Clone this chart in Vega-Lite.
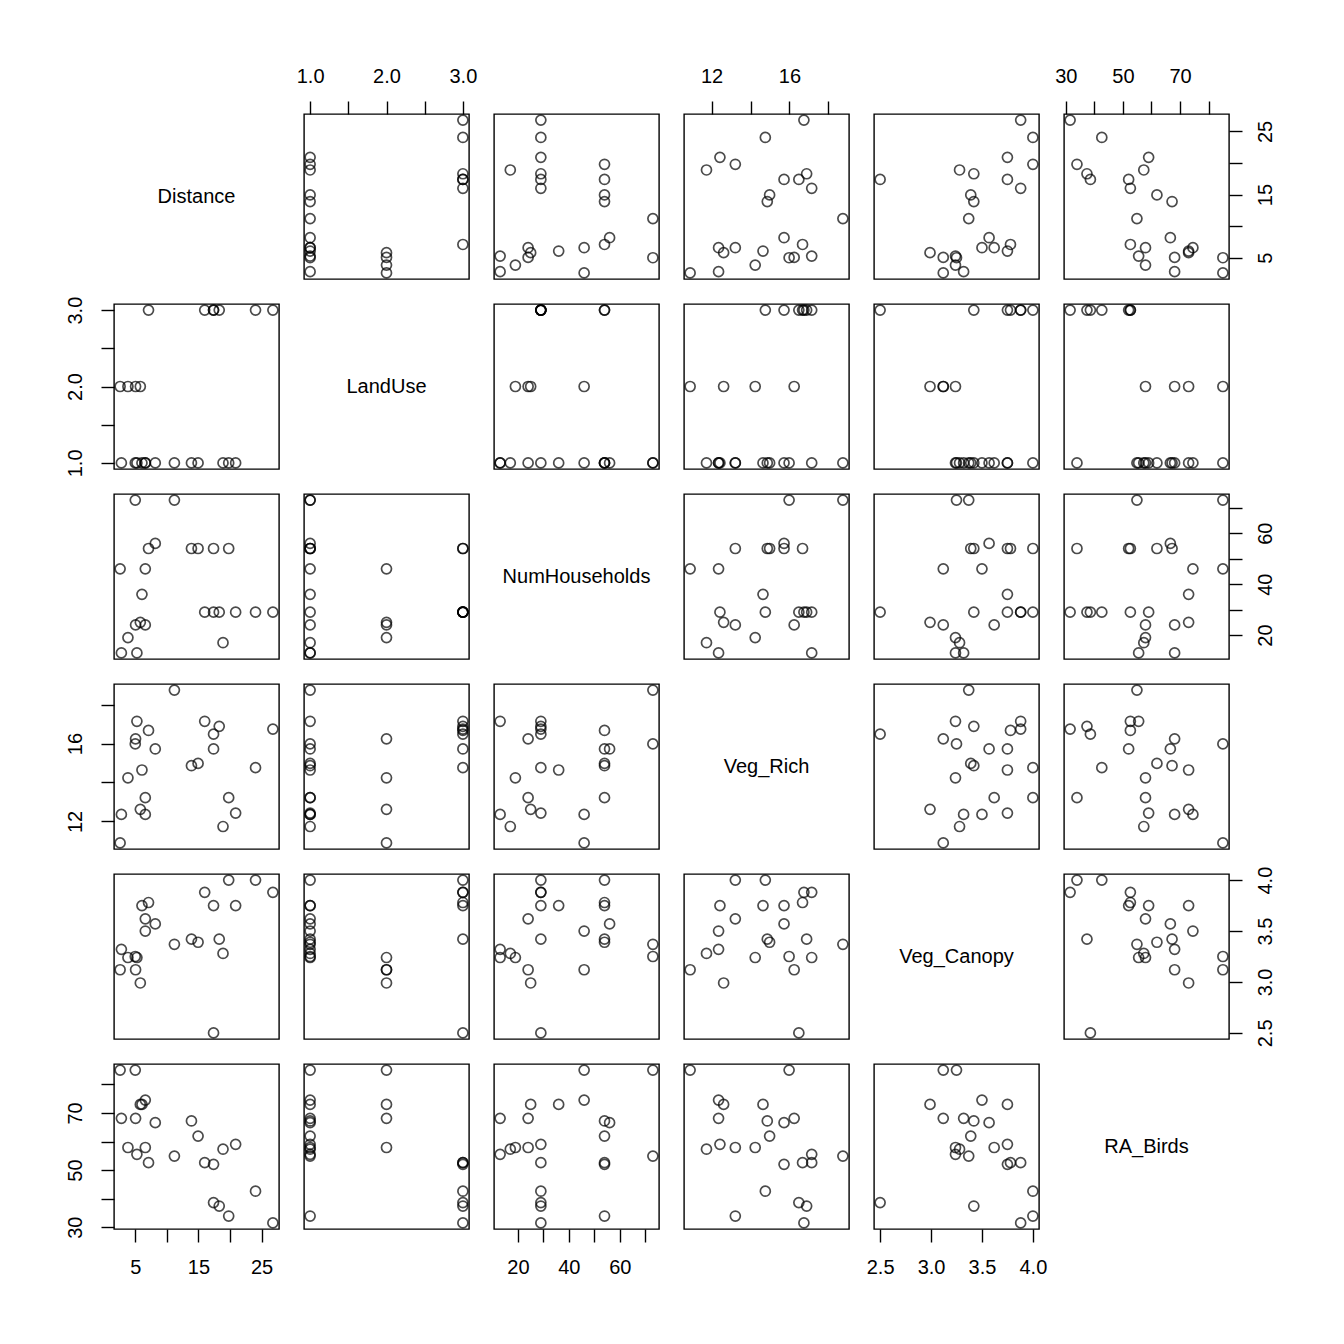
{
"$schema":"https://vega.github.io/schema/vega-lite/v6.json",
"background":"white",
"padding":{"left":64,"top":65,"right":5,"bottom":5},
"datasets":{"pairs":[
{"Distance":2.6,"LandUse":2,"NumHouseholds":46,"Veg_Rich":10.9,"Veg_Canopy":3.12,"RA_Birds":85.0},
{"Distance":2.8,"LandUse":1,"NumHouseholds":13,"Veg_Rich":12.36,"Veg_Canopy":3.32,"RA_Birds":68.1},
{"Distance":3.84,"LandUse":2,"NumHouseholds":19,"Veg_Rich":14.24,"Veg_Canopy":3.24,"RA_Birds":57.9},
{"Distance":5.0,"LandUse":1,"NumHouseholds":73,"Veg_Rich":15.98,"Veg_Canopy":3.25,"RA_Birds":85.0},
{"Distance":5.05,"LandUse":2,"NumHouseholds":24,"Veg_Rich":16.24,"Veg_Canopy":3.12,"RA_Birds":68.1},
{"Distance":5.26,"LandUse":1,"NumHouseholds":13,"Veg_Rich":17.14,"Veg_Canopy":3.24,"RA_Birds":55.5},
{"Distance":5.8,"LandUse":2,"NumHouseholds":25,"Veg_Rich":12.62,"Veg_Canopy":2.99,"RA_Birds":73.0},
{"Distance":6.06,"LandUse":1,"NumHouseholds":36,"Veg_Rich":14.64,"Veg_Canopy":3.75,"RA_Birds":73.0},
{"Distance":6.59,"LandUse":1,"NumHouseholds":46,"Veg_Rich":12.36,"Veg_Canopy":3.50,"RA_Birds":74.5},
{"Distance":6.59,"LandUse":1,"NumHouseholds":24,"Veg_Rich":13.22,"Veg_Canopy":3.62,"RA_Birds":57.9},
{"Distance":7.1,"LandUse":3,"NumHouseholds":54,"Veg_Rich":16.67,"Veg_Canopy":3.78,"RA_Birds":52.6},
{"Distance":8.17,"LandUse":1,"NumHouseholds":56,"Veg_Rich":15.72,"Veg_Canopy":3.57,"RA_Birds":66.6},
{"Distance":11.2,"LandUse":1,"NumHouseholds":73,"Veg_Rich":18.74,"Veg_Canopy":3.37,"RA_Birds":54.9},
{"Distance":13.9,"LandUse":1,"NumHouseholds":54,"Veg_Rich":14.86,"Veg_Canopy":3.42,"RA_Birds":67.2},
{"Distance":14.95,"LandUse":1,"NumHouseholds":54,"Veg_Rich":14.98,"Veg_Canopy":3.39,"RA_Birds":61.9},
{"Distance":16.0,"LandUse":3,"NumHouseholds":29,"Veg_Rich":17.14,"Veg_Canopy":3.88,"RA_Birds":52.6},
{"Distance":17.4,"LandUse":3,"NumHouseholds":54,"Veg_Rich":15.72,"Veg_Canopy":3.75,"RA_Birds":52.0},
{"Distance":17.4,"LandUse":3,"NumHouseholds":29,"Veg_Rich":16.48,"Veg_Canopy":2.50,"RA_Birds":38.6},
{"Distance":18.3,"LandUse":3,"NumHouseholds":29,"Veg_Rich":16.88,"Veg_Canopy":3.42,"RA_Birds":37.4},
{"Distance":18.9,"LandUse":1,"NumHouseholds":17,"Veg_Rich":11.74,"Veg_Canopy":3.28,"RA_Birds":57.3},
{"Distance":19.8,"LandUse":1,"NumHouseholds":54,"Veg_Rich":13.22,"Veg_Canopy":4.0,"RA_Birds":33.9},
{"Distance":20.9,"LandUse":1,"NumHouseholds":29,"Veg_Rich":12.43,"Veg_Canopy":3.75,"RA_Birds":59.0},
{"Distance":24.05,"LandUse":3,"NumHouseholds":29,"Veg_Rich":14.76,"Veg_Canopy":4.0,"RA_Birds":42.6},
{"Distance":26.8,"LandUse":3,"NumHouseholds":29,"Veg_Rich":16.74,"Veg_Canopy":3.88,"RA_Birds":31.5}
]},
"columns":6,
"spacing":25,
"bounds":"flush",
"concat":[
{"width":165,"height":165,"data":{"values":[{"name":"Distance"}]},"mark":{"type":"text","fontSize":20,"font":"Liberation Sans","color":"black"},"encoding":{"text":{"field":"name","type":"nominal"}}},
{"width":165,"height":165,"data":{"name":"pairs"},"mark":{"type":"point","shape":"circle","filled":false,"color":"black","strokeWidth":1.7,"size":100},"encoding":{"x":{"field":"LandUse","type":"quantitative","scale":{"domain":[0.92,3.08],"nice":false,"zero":false},"title":null,"axis":{"orient":"top","values":[1,1.5,2,2.5,3],"format":".1f","labelExpr":"datum.value==1.5||datum.value==2.5?'':datum.label"}},"y":{"field":"Distance","type":"quantitative","scale":{"domain":[1.632,27.768],"nice":false,"zero":false},"axis":null}}},
{"width":165,"height":165,"data":{"name":"pairs"},"mark":{"type":"point","shape":"circle","filled":false,"color":"black","strokeWidth":1.7,"size":100},"encoding":{"x":{"field":"NumHouseholds","type":"quantitative","scale":{"domain":[10.6,75.4],"nice":false,"zero":false},"axis":null},"y":{"field":"Distance","type":"quantitative","scale":{"domain":[1.632,27.768],"nice":false,"zero":false},"axis":null}}},
{"width":165,"height":165,"data":{"name":"pairs"},"mark":{"type":"point","shape":"circle","filled":false,"color":"black","strokeWidth":1.7,"size":100},"encoding":{"x":{"field":"Veg_Rich","type":"quantitative","scale":{"domain":[10.586,19.054],"nice":false,"zero":false},"title":null,"axis":{"orient":"top","values":[12,14,16,18],"labelExpr":"datum.value==14||datum.value==18?'':datum.label"}},"y":{"field":"Distance","type":"quantitative","scale":{"domain":[1.632,27.768],"nice":false,"zero":false},"axis":null}}},
{"width":165,"height":165,"data":{"name":"pairs"},"mark":{"type":"point","shape":"circle","filled":false,"color":"black","strokeWidth":1.7,"size":100},"encoding":{"x":{"field":"Veg_Canopy","type":"quantitative","scale":{"domain":[2.44,4.06],"nice":false,"zero":false},"axis":null},"y":{"field":"Distance","type":"quantitative","scale":{"domain":[1.632,27.768],"nice":false,"zero":false},"axis":null}}},
{"width":165,"height":165,"data":{"name":"pairs"},"mark":{"type":"point","shape":"circle","filled":false,"color":"black","strokeWidth":1.7,"size":100},"encoding":{"x":{"field":"RA_Birds","type":"quantitative","scale":{"domain":[29.36,87.14],"nice":false,"zero":false},"title":null,"axis":{"orient":"top","values":[30,40,50,60,70,80],"labelExpr":"datum.value==40||datum.value==60||datum.value==80?'':datum.label"}},"y":{"field":"Distance","type":"quantitative","scale":{"domain":[1.632,27.768],"nice":false,"zero":false},"title":null,"axis":{"orient":"right","labelAngle":270,"values":[5,10,15,20,25],"labelExpr":"datum.value==10||datum.value==20?'':datum.label"}}}},

{"width":165,"height":165,"data":{"name":"pairs"},"mark":{"type":"point","shape":"circle","filled":false,"color":"black","strokeWidth":1.7,"size":100},"encoding":{"x":{"field":"Distance","type":"quantitative","scale":{"domain":[1.632,27.768],"nice":false,"zero":false},"axis":null},"y":{"field":"LandUse","type":"quantitative","scale":{"domain":[0.92,3.08],"nice":false,"zero":false},"title":null,"axis":{"orient":"left","labelAngle":270,"values":[1,1.5,2,2.5,3],"format":".1f","labelExpr":"datum.value==1.5||datum.value==2.5?'':datum.label"}}}},
{"width":165,"height":165,"data":{"values":[{"name":"LandUse"}]},"mark":{"type":"text","fontSize":20,"font":"Liberation Sans","color":"black"},"encoding":{"text":{"field":"name","type":"nominal"}}},
{"width":165,"height":165,"data":{"name":"pairs"},"mark":{"type":"point","shape":"circle","filled":false,"color":"black","strokeWidth":1.7,"size":100},"encoding":{"x":{"field":"NumHouseholds","type":"quantitative","scale":{"domain":[10.6,75.4],"nice":false,"zero":false},"axis":null},"y":{"field":"LandUse","type":"quantitative","scale":{"domain":[0.92,3.08],"nice":false,"zero":false},"axis":null}}},
{"width":165,"height":165,"data":{"name":"pairs"},"mark":{"type":"point","shape":"circle","filled":false,"color":"black","strokeWidth":1.7,"size":100},"encoding":{"x":{"field":"Veg_Rich","type":"quantitative","scale":{"domain":[10.586,19.054],"nice":false,"zero":false},"axis":null},"y":{"field":"LandUse","type":"quantitative","scale":{"domain":[0.92,3.08],"nice":false,"zero":false},"axis":null}}},
{"width":165,"height":165,"data":{"name":"pairs"},"mark":{"type":"point","shape":"circle","filled":false,"color":"black","strokeWidth":1.7,"size":100},"encoding":{"x":{"field":"Veg_Canopy","type":"quantitative","scale":{"domain":[2.44,4.06],"nice":false,"zero":false},"axis":null},"y":{"field":"LandUse","type":"quantitative","scale":{"domain":[0.92,3.08],"nice":false,"zero":false},"axis":null}}},
{"width":165,"height":165,"data":{"name":"pairs"},"mark":{"type":"point","shape":"circle","filled":false,"color":"black","strokeWidth":1.7,"size":100},"encoding":{"x":{"field":"RA_Birds","type":"quantitative","scale":{"domain":[29.36,87.14],"nice":false,"zero":false},"axis":null},"y":{"field":"LandUse","type":"quantitative","scale":{"domain":[0.92,3.08],"nice":false,"zero":false},"axis":null}}},

{"width":165,"height":165,"data":{"name":"pairs"},"mark":{"type":"point","shape":"circle","filled":false,"color":"black","strokeWidth":1.7,"size":100},"encoding":{"x":{"field":"Distance","type":"quantitative","scale":{"domain":[1.632,27.768],"nice":false,"zero":false},"axis":null},"y":{"field":"NumHouseholds","type":"quantitative","scale":{"domain":[10.6,75.4],"nice":false,"zero":false},"axis":null}}},
{"width":165,"height":165,"data":{"name":"pairs"},"mark":{"type":"point","shape":"circle","filled":false,"color":"black","strokeWidth":1.7,"size":100},"encoding":{"x":{"field":"LandUse","type":"quantitative","scale":{"domain":[0.92,3.08],"nice":false,"zero":false},"axis":null},"y":{"field":"NumHouseholds","type":"quantitative","scale":{"domain":[10.6,75.4],"nice":false,"zero":false},"axis":null}}},
{"width":165,"height":165,"data":{"values":[{"name":"NumHouseholds"}]},"mark":{"type":"text","fontSize":20,"font":"Liberation Sans","color":"black"},"encoding":{"text":{"field":"name","type":"nominal"}}},
{"width":165,"height":165,"data":{"name":"pairs"},"mark":{"type":"point","shape":"circle","filled":false,"color":"black","strokeWidth":1.7,"size":100},"encoding":{"x":{"field":"Veg_Rich","type":"quantitative","scale":{"domain":[10.586,19.054],"nice":false,"zero":false},"axis":null},"y":{"field":"NumHouseholds","type":"quantitative","scale":{"domain":[10.6,75.4],"nice":false,"zero":false},"axis":null}}},
{"width":165,"height":165,"data":{"name":"pairs"},"mark":{"type":"point","shape":"circle","filled":false,"color":"black","strokeWidth":1.7,"size":100},"encoding":{"x":{"field":"Veg_Canopy","type":"quantitative","scale":{"domain":[2.44,4.06],"nice":false,"zero":false},"axis":null},"y":{"field":"NumHouseholds","type":"quantitative","scale":{"domain":[10.6,75.4],"nice":false,"zero":false},"axis":null}}},
{"width":165,"height":165,"data":{"name":"pairs"},"mark":{"type":"point","shape":"circle","filled":false,"color":"black","strokeWidth":1.7,"size":100},"encoding":{"x":{"field":"RA_Birds","type":"quantitative","scale":{"domain":[29.36,87.14],"nice":false,"zero":false},"axis":null},"y":{"field":"NumHouseholds","type":"quantitative","scale":{"domain":[10.6,75.4],"nice":false,"zero":false},"title":null,"axis":{"orient":"right","labelAngle":270,"values":[20,30,40,50,60,70],"labelExpr":"datum.value==30||datum.value==50||datum.value==70?'':datum.label"}}}},

{"width":165,"height":165,"data":{"name":"pairs"},"mark":{"type":"point","shape":"circle","filled":false,"color":"black","strokeWidth":1.7,"size":100},"encoding":{"x":{"field":"Distance","type":"quantitative","scale":{"domain":[1.632,27.768],"nice":false,"zero":false},"axis":null},"y":{"field":"Veg_Rich","type":"quantitative","scale":{"domain":[10.586,19.054],"nice":false,"zero":false},"title":null,"axis":{"orient":"left","labelAngle":270,"values":[12,14,16,18],"labelExpr":"datum.value==14||datum.value==18?'':datum.label"}}}},
{"width":165,"height":165,"data":{"name":"pairs"},"mark":{"type":"point","shape":"circle","filled":false,"color":"black","strokeWidth":1.7,"size":100},"encoding":{"x":{"field":"LandUse","type":"quantitative","scale":{"domain":[0.92,3.08],"nice":false,"zero":false},"axis":null},"y":{"field":"Veg_Rich","type":"quantitative","scale":{"domain":[10.586,19.054],"nice":false,"zero":false},"axis":null}}},
{"width":165,"height":165,"data":{"name":"pairs"},"mark":{"type":"point","shape":"circle","filled":false,"color":"black","strokeWidth":1.7,"size":100},"encoding":{"x":{"field":"NumHouseholds","type":"quantitative","scale":{"domain":[10.6,75.4],"nice":false,"zero":false},"axis":null},"y":{"field":"Veg_Rich","type":"quantitative","scale":{"domain":[10.586,19.054],"nice":false,"zero":false},"axis":null}}},
{"width":165,"height":165,"data":{"values":[{"name":"Veg_Rich"}]},"mark":{"type":"text","fontSize":20,"font":"Liberation Sans","color":"black"},"encoding":{"text":{"field":"name","type":"nominal"}}},
{"width":165,"height":165,"data":{"name":"pairs"},"mark":{"type":"point","shape":"circle","filled":false,"color":"black","strokeWidth":1.7,"size":100},"encoding":{"x":{"field":"Veg_Canopy","type":"quantitative","scale":{"domain":[2.44,4.06],"nice":false,"zero":false},"axis":null},"y":{"field":"Veg_Rich","type":"quantitative","scale":{"domain":[10.586,19.054],"nice":false,"zero":false},"axis":null}}},
{"width":165,"height":165,"data":{"name":"pairs"},"mark":{"type":"point","shape":"circle","filled":false,"color":"black","strokeWidth":1.7,"size":100},"encoding":{"x":{"field":"RA_Birds","type":"quantitative","scale":{"domain":[29.36,87.14],"nice":false,"zero":false},"axis":null},"y":{"field":"Veg_Rich","type":"quantitative","scale":{"domain":[10.586,19.054],"nice":false,"zero":false},"axis":null}}},

{"width":165,"height":165,"data":{"name":"pairs"},"mark":{"type":"point","shape":"circle","filled":false,"color":"black","strokeWidth":1.7,"size":100},"encoding":{"x":{"field":"Distance","type":"quantitative","scale":{"domain":[1.632,27.768],"nice":false,"zero":false},"axis":null},"y":{"field":"Veg_Canopy","type":"quantitative","scale":{"domain":[2.44,4.06],"nice":false,"zero":false},"axis":null}}},
{"width":165,"height":165,"data":{"name":"pairs"},"mark":{"type":"point","shape":"circle","filled":false,"color":"black","strokeWidth":1.7,"size":100},"encoding":{"x":{"field":"LandUse","type":"quantitative","scale":{"domain":[0.92,3.08],"nice":false,"zero":false},"axis":null},"y":{"field":"Veg_Canopy","type":"quantitative","scale":{"domain":[2.44,4.06],"nice":false,"zero":false},"axis":null}}},
{"width":165,"height":165,"data":{"name":"pairs"},"mark":{"type":"point","shape":"circle","filled":false,"color":"black","strokeWidth":1.7,"size":100},"encoding":{"x":{"field":"NumHouseholds","type":"quantitative","scale":{"domain":[10.6,75.4],"nice":false,"zero":false},"axis":null},"y":{"field":"Veg_Canopy","type":"quantitative","scale":{"domain":[2.44,4.06],"nice":false,"zero":false},"axis":null}}},
{"width":165,"height":165,"data":{"name":"pairs"},"mark":{"type":"point","shape":"circle","filled":false,"color":"black","strokeWidth":1.7,"size":100},"encoding":{"x":{"field":"Veg_Rich","type":"quantitative","scale":{"domain":[10.586,19.054],"nice":false,"zero":false},"axis":null},"y":{"field":"Veg_Canopy","type":"quantitative","scale":{"domain":[2.44,4.06],"nice":false,"zero":false},"axis":null}}},
{"width":165,"height":165,"data":{"values":[{"name":"Veg_Canopy"}]},"mark":{"type":"text","fontSize":20,"font":"Liberation Sans","color":"black"},"encoding":{"text":{"field":"name","type":"nominal"}}},
{"width":165,"height":165,"data":{"name":"pairs"},"mark":{"type":"point","shape":"circle","filled":false,"color":"black","strokeWidth":1.7,"size":100},"encoding":{"x":{"field":"RA_Birds","type":"quantitative","scale":{"domain":[29.36,87.14],"nice":false,"zero":false},"axis":null},"y":{"field":"Veg_Canopy","type":"quantitative","scale":{"domain":[2.44,4.06],"nice":false,"zero":false},"title":null,"axis":{"orient":"right","labelAngle":270,"values":[2.5,3,3.5,4],"format":".1f"}}}},

{"width":165,"height":165,"data":{"name":"pairs"},"mark":{"type":"point","shape":"circle","filled":false,"color":"black","strokeWidth":1.7,"size":100},"encoding":{"x":{"field":"Distance","type":"quantitative","scale":{"domain":[1.632,27.768],"nice":false,"zero":false},"title":null,"axis":{"orient":"bottom","values":[5,10,15,20,25],"labelExpr":"datum.value==10||datum.value==20?'':datum.label"}},"y":{"field":"RA_Birds","type":"quantitative","scale":{"domain":[29.36,87.14],"nice":false,"zero":false},"title":null,"axis":{"orient":"left","labelAngle":270,"values":[30,40,50,60,70,80],"labelExpr":"datum.value==40||datum.value==60||datum.value==80?'':datum.label"}}}},
{"width":165,"height":165,"data":{"name":"pairs"},"mark":{"type":"point","shape":"circle","filled":false,"color":"black","strokeWidth":1.7,"size":100},"encoding":{"x":{"field":"LandUse","type":"quantitative","scale":{"domain":[0.92,3.08],"nice":false,"zero":false},"axis":null},"y":{"field":"RA_Birds","type":"quantitative","scale":{"domain":[29.36,87.14],"nice":false,"zero":false},"axis":null}}},
{"width":165,"height":165,"data":{"name":"pairs"},"mark":{"type":"point","shape":"circle","filled":false,"color":"black","strokeWidth":1.7,"size":100},"encoding":{"x":{"field":"NumHouseholds","type":"quantitative","scale":{"domain":[10.6,75.4],"nice":false,"zero":false},"title":null,"axis":{"orient":"bottom","values":[20,30,40,50,60,70],"labelExpr":"datum.value==30||datum.value==50||datum.value==70?'':datum.label"}},"y":{"field":"RA_Birds","type":"quantitative","scale":{"domain":[29.36,87.14],"nice":false,"zero":false},"axis":null}}},
{"width":165,"height":165,"data":{"name":"pairs"},"mark":{"type":"point","shape":"circle","filled":false,"color":"black","strokeWidth":1.7,"size":100},"encoding":{"x":{"field":"Veg_Rich","type":"quantitative","scale":{"domain":[10.586,19.054],"nice":false,"zero":false},"axis":null},"y":{"field":"RA_Birds","type":"quantitative","scale":{"domain":[29.36,87.14],"nice":false,"zero":false},"axis":null}}},
{"width":165,"height":165,"data":{"name":"pairs"},"mark":{"type":"point","shape":"circle","filled":false,"color":"black","strokeWidth":1.7,"size":100},"encoding":{"x":{"field":"Veg_Canopy","type":"quantitative","scale":{"domain":[2.44,4.06],"nice":false,"zero":false},"title":null,"axis":{"orient":"bottom","values":[2.5,3,3.5,4],"format":".1f"}},"y":{"field":"RA_Birds","type":"quantitative","scale":{"domain":[29.36,87.14],"nice":false,"zero":false},"axis":null}}},
{"width":165,"height":165,"data":{"values":[{"name":"RA_Birds"}]},"mark":{"type":"text","fontSize":20,"font":"Liberation Sans","color":"black"},"encoding":{"text":{"field":"name","type":"nominal"}}}
],
"config":{
"view":{"stroke":"black","strokeWidth":1.4},
"axis":{"domain":false,"grid":false,"tickColor":"black","tickWidth":1.4,"tickSize":13,"labelPadding":13,"labelFont":"Liberation Sans","labelFontSize":20,"labelColor":"black","labelFlush":false,"labelOverlap":false},
"axisLeft":{"labelPadding":16},
"axisTop":{"labelPadding":15},
"axisBottom":{"labelPadding":15}
}
}
